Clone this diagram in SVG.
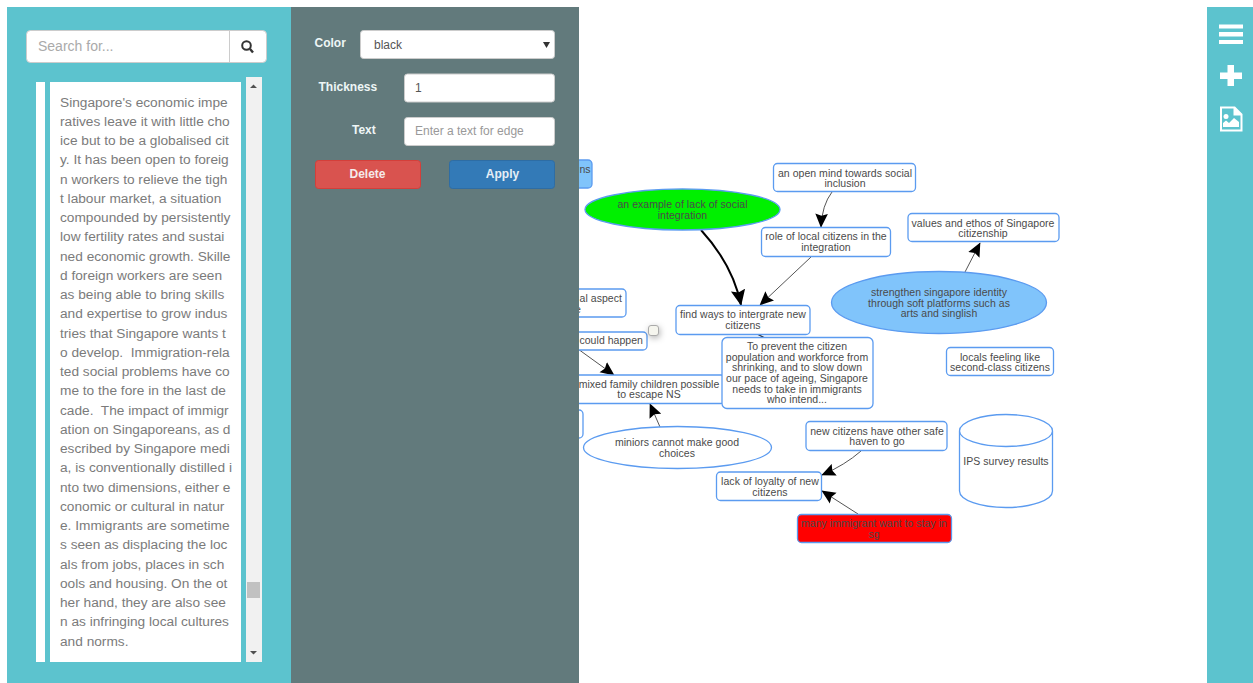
<svg xmlns="http://www.w3.org/2000/svg" width="1253" height="683" viewBox="0 0 1253 683">
<style>
text{font-family:"Liberation Sans",Arial,sans-serif}
.n{fill:#fff;stroke:#5b9bf0;stroke-width:1.3}
.t{font-size:10.5px;fill:#4a4a4a;text-anchor:middle;letter-spacing:.04px}
.p{font-size:13.7px;fill:#7b7b7b}
.l{font-size:12px;font-weight:bold;fill:#eef6f6}
.f{fill:#fff;stroke:#ccc;stroke-width:1}
.c{fill:none;stroke:#555;stroke-width:1}
</style>
<defs>
<marker id="a" viewBox="0 0 10 10" refX="9.500" refY="5" markerWidth="14" markerHeight="14" markerUnits="userSpaceOnUse" orient="auto"><path d="M0 .5L10 5L0 9.500L1.500 5Z" fill="#000"/></marker>
<marker id="b" viewBox="0 0 10 10" refX="9.500" refY="5" markerWidth="8" markerHeight="8" orient="auto"><path d="M0 .5L10 5L0 9.500L1.500 5Z" fill="#000"/></marker>
</defs>
<rect width="1253" height="683" fill="#fff"/>

<g id="connectors">
<path class="c" d="M832 192Q822 205 821 227" marker-end="url(#a)"/>
<path class="c" d="M811 257L760 305" marker-end="url(#a)"/>
<path d="M701 230Q733 265 741 305" fill="none" stroke="#000" stroke-width="2" marker-end="url(#b)"/>
<path class="c" d="M965 272L980 243" marker-end="url(#a)"/>
<path class="c" d="M578 349L614 375" marker-end="url(#a)"/>
<path class="c" d="M660 427L650 404" marker-end="url(#a)"/>
<path class="c" d="M861 451Q845 465 822 475" marker-end="url(#a)"/>
<path class="c" d="M858 514L822 491" marker-end="url(#a)"/>
<path d="M757 334L765 338" stroke="#222" stroke-width="1.2" fill="none"/>
</g>

<g id="node-ns"><rect class="n" x="560" y="160" width="32" height="28" rx="4" style="fill:#80c4fb"/><text class="t" x="585" y="173">ns</text></g>
<g id="node-example"><ellipse class="n" cx="682.500" cy="209.500" rx="97.500" ry="20.500" style="fill:#00f000"/><text class="t" x="682.500" y="208">an example of lack of social</text><text class="t" x="682.500" y="219">integration</text></g>
<g id="node-openmind"><rect class="n" x="773.500" y="163.500" width="142" height="28" rx="4"/><text class="t" x="845" y="176.500">an open mind towards social</text><text class="t" x="845" y="187">inclusion</text></g>
<g id="node-role"><rect class="n" x="761.500" y="227.500" width="129" height="29" rx="4"/><text class="t" x="826" y="240">role of local citizens in the</text><text class="t" x="826" y="251">integration</text></g>
<g id="node-values"><rect class="n" x="908" y="213.500" width="151" height="28" rx="4"/><text class="t" x="983" y="227">values and ethos of Singapore</text><text class="t" x="983" y="237">citizenship</text></g>
<g id="node-strengthen"><ellipse class="n" cx="939" cy="302.500" rx="107.500" ry="31" style="fill:#80c4fb"/><text class="t" x="939" y="296">strengthen singapore identity</text><text class="t" x="939" y="307">through soft platforms such as</text><text class="t" x="939" y="317">arts and singlish</text></g>
<g id="node-social"><rect class="n" x="560" y="289" width="66" height="28" rx="4"/><text class="t" x="622" y="302" style="text-anchor:end">al aspect</text><text class="t" x="581" y="313" style="text-anchor:end">e</text></g>
<g id="node-could"><rect class="n" x="560" y="332" width="87" height="18" rx="4"/><text class="t" x="643" y="344" style="text-anchor:end">could happen</text></g>
<rect id="handle" x="648.500" y="325.500" width="10" height="10" rx="2.500" fill="#f5f5ee" stroke="#aaa" style="filter:drop-shadow(1px 2px 3px rgba(0,0,0,.3))"/>
<g id="node-find"><rect class="n" x="676" y="305.500" width="134" height="29" rx="4"/><text class="t" x="743" y="318">find ways to intergrate new</text><text class="t" x="743" y="329">citizens</text></g>
<g id="node-mixed"><rect class="n" x="560" y="375" width="165" height="28.500" rx="4"/><text class="t" x="649" y="388">mixed family children possible</text><text class="t" x="649" y="398">to escape NS</text></g>
<g id="node-prevent"><rect class="n" x="722" y="337.500" width="151" height="71" rx="5"/><text class="t" x="797" y="350">To prevent the citizen</text><text class="t" x="797" y="360.500">population and workforce from</text><text class="t" x="797" y="371">shrinking, and to slow down</text><text class="t" x="797" y="382">our pace of ageing, Singapore</text><text class="t" x="797" y="392.500">needs to take in immigrants</text><text class="t" x="797" y="403">who intend...</text></g>
<g id="node-stub"><rect class="n" x="560" y="410" width="23" height="28" rx="4"/></g>
<g id="node-locals"><rect class="n" x="946.500" y="347.500" width="107" height="28" rx="4"/><text class="t" x="1000" y="360.500">locals feeling like</text><text class="t" x="1000" y="370.500">second-class citizens</text></g>
<g id="node-miniors"><ellipse class="n" cx="677.500" cy="447.500" rx="94" ry="21"/><text class="t" x="677" y="446">miniors cannot make good</text><text class="t" x="677" y="457">choices</text></g>
<g id="node-havens"><rect class="n" x="806" y="421.500" width="141" height="29" rx="4"/><text class="t" x="877" y="435">new citizens have other safe</text><text class="t" x="877" y="445">haven to go</text></g>
<g id="node-ips"><path class="n" d="M959.500 431V491A46.500 16.500 0 0 0 1052.500 491V431A46.500 16.500 0 0 0 959.500 431A46.500 15.500 0 0 0 1052.500 431"/><text class="t" x="1006" y="464.500">IPS survey results</text></g>
<g id="node-loyalty"><rect class="n" x="716.500" y="472" width="105" height="28.500" rx="4"/><text class="t" x="770" y="485">lack of loyalty of new</text><text class="t" x="770" y="495.500">citizens</text></g>
<g id="node-many"><rect class="n" x="797.500" y="514.500" width="154" height="28" rx="4" style="fill:#f00"/><text class="t" x="874" y="527">many immigrant want to stay in</text><text class="t" x="874" y="537.500">sg</text></g>

<g id="left-panel">
<rect x="7" y="7" width="284" height="676" fill="#5cc3ce"/>
<rect x="26.500" y="30.500" width="240" height="32" rx="4" class="f"/>
<path d="M229.500 31V62" stroke="#ccc"/>
<text x="38" y="51" font-size="14" fill="#aaa">Search for...</text>
<circle cx="246.500" cy="45.500" r="4.300" fill="none" stroke="#333" stroke-width="2"/><path d="M250 49L253 52.500" stroke="#333" stroke-width="2.400"/>
<rect x="36" y="82" width="9" height="580" fill="#fff"/>
<rect x="50" y="82" width="191" height="580" fill="#fff"/>
<rect x="246" y="77" width="16" height="585" fill="#f1f1f1"/>
<rect x="247" y="582" width="13" height="16" fill="#c1c1c1"/>
<path d="M250 88L253.500 84.500L257 88ZM250 651L257 651L253.500 654.500Z" fill="#505050"/>
<g class="p" transform="translate(0 .8)">
<text x="60" y="106">Singapore's economic impe</text>
<text x="60" y="125.200">ratives leave it with little cho</text>
<text x="60" y="144.500">ice but to be a globalised cit</text>
<text x="60" y="163.700">y. It has been open to foreig</text>
<text x="60" y="183">n workers to relieve the tigh</text>
<text x="60" y="202.200">t labour market, a situation</text>
<text x="60" y="221.500">compounded by persistently</text>
<text x="60" y="240.700">low fertility rates and sustai</text>
<text x="60" y="260">ned economic growth. Skille</text>
<text x="60" y="279.200">d foreign workers are seen</text>
<text x="60" y="298.500">as being able to bring skills</text>
<text x="60" y="317.700">and expertise to grow indus</text>
<text x="60" y="337">tries that Singapore wants t</text>
<text x="60" y="356.200" xml:space="preserve">o develop.  Immigration-rela</text>
<text x="60" y="375.500">ted social problems have co</text>
<text x="60" y="394.700">me to the fore in the last de</text>
<text x="60" y="414" xml:space="preserve">cade.  The impact of immigr</text>
<text x="60" y="433.200">ation on Singaporeans, as d</text>
<text x="60" y="452.500">escribed by Singapore medi</text>
<text x="60" y="471.700">a, is conventionally distilled i</text>
<text x="60" y="491">nto two dimensions, either e</text>
<text x="60" y="510.200">conomic or cultural in natur</text>
<text x="60" y="529.500">e. Immigrants are sometime</text>
<text x="60" y="548.700">s seen as displacing the loc</text>
<text x="60" y="568">als from jobs, places in sch</text>
<text x="60" y="587.200">ools and housing. On the ot</text>
<text x="60" y="606.500">her hand, they are also see</text>
<text x="60" y="625.700">n as infringing local cultures</text>
<text x="60" y="645">and norms.</text>
</g>
</g>

<g id="edge-panel">
<rect x="291" y="7" width="288" height="676" fill="#627a7c"/>
<text class="l" x="314.500" y="47">Color</text>
<rect x="360.500" y="30.500" width="194" height="28" rx="3" class="f"/>
<text x="374" y="48.500" font-size="12" fill="#555">black</text>
<path d="M543 42H550L546.500 48Z" fill="#333"/>
<text class="l" x="318.500" y="91">Thickness</text>
<rect x="404.500" y="74" width="150" height="28" rx="3" class="f"/>
<text x="415" y="92" font-size="12" fill="#555">1</text>
<text class="l" x="352" y="134">Text</text>
<rect x="404.500" y="117.500" width="150" height="28" rx="3" class="f"/>
<text x="415" y="135" font-size="12" fill="#999">Enter a text for edge</text>
<rect x="315.500" y="160.500" width="105" height="28" rx="3" fill="#d9534f" stroke="#d43f3a"/>
<text x="367.500" y="178" font-size="12" font-weight="bold" fill="#f5eaea" text-anchor="middle">Delete</text>
<rect x="449.500" y="160.500" width="105" height="28" rx="3" fill="#337ab7" stroke="#2e6da4"/>
<text x="502.500" y="178" font-size="12" font-weight="bold" fill="#e6eef6" text-anchor="middle">Apply</text>
</g>

<g id="toolbar">
<rect x="1207" y="7" width="46" height="676" fill="#5cc3ce"/>
<path d="M1219 24.500H1243V28.500H1219ZM1219 32H1243V36.500H1219ZM1219 40H1243V44H1219Z" fill="#fff"/>
<path d="M1227.500 65H1234V72.500H1242V79H1234V86H1227.500V79H1220V72.500H1227.500Z" fill="#fff"/>
<path d="M1220 106.500H1235L1242.500 114V131.500H1220Z M1222 108.500V129.500H1240.500V115.500H1233.500V108.500Z" fill="#fff" fill-rule="evenodd"/>
<circle cx="1226" cy="116.500" r="2.500" fill="#fff"/>
<path d="M1223 127V123L1226 120.500L1229 123L1234 118L1239 122V127Z" fill="#fff"/>
</g>
</svg>
